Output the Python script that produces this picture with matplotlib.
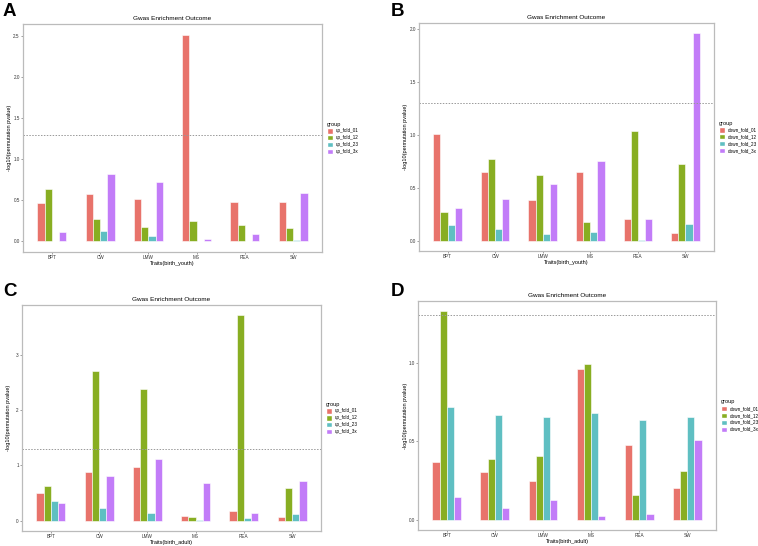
import numpy as np
import matplotlib
matplotlib.use("Agg")
import matplotlib.pyplot as plt
from matplotlib.patches import Patch

plt.rcParams['font.family'] = ['Liberation Sans', 'DejaVu Sans']

traits = ["BPT", "CW", "LMW", "MS", "REA", "SW"]
up_groups = ["up_fold_01", "up_fold_12", "up_fold_23", "up_fold_3x"]
down_groups = ["down_fold_01", "down_fold_12", "down_fold_23", "down_fold_3x"]
colors = ["#E8736B", "#88AE22", "#5FBFC2", "#C27CF8"]

# rows = groups, columns = traits
youth_up = [
    [0.465, 0.579, 0.518, 2.51, 0.481, 0.481],
    [0.644, 0.277, 0.180, 0.249, 0.204, 0.163],
    [0.010, 0.122, 0.069, 0.005, 0.005, 0.012],
    [0.114, 0.820, 0.722, 0.029, 0.094, 0.591],
]
youth_down = [
    [1.010, 0.653, 0.388, 0.653, 0.208, 0.069],
    [0.268, 0.770, 0.621, 0.177, 1.035, 0.722],
    [0.148, 0.107, 0.063, 0.079, 0.006, 0.155],
    [0.312, 0.394, 0.539, 0.757, 0.202, 1.959],
]
adult_up = [
    [0.508, 0.883, 0.980, 0.079, 0.169, 0.067],
    [0.623, 2.710, 2.390, 0.067, 3.714, 0.587],
    [0.357, 0.230, 0.145, 0.012, 0.042, 0.115],
    [0.315, 0.810, 1.113, 0.684, 0.133, 0.720],
]
adult_down = [
    [0.368, 0.304, 0.247, 0.962, 0.478, 0.203],
    [1.326, 0.383, 0.406, 0.989, 0.156, 0.311],
    [0.717, 0.666, 0.653, 0.677, 0.632, 0.651],
    [0.146, 0.076, 0.127, 0.021, 0.038, 0.505],
]

W, H = 758, 546
fig = plt.figure(figsize=(W / 100, H / 100), dpi=100)


def px_axes(l, t, r, b):
    return fig.add_axes([l / W, 1 - b / H, (r - l) / W, (b - t) / H])


def panel(rect, letter, letter_xy, data, groups, xlabel, ylim, yticks, yticklabels):
    ax = px_axes(*rect)
    x = np.arange(1, len(traits) + 1)
    bw = 0.15
    for i, vals in enumerate(data):
        ax.bar(x + (i - 1.5) * bw, vals, width=bw, color=colors[i],
               edgecolor="white", linewidth=0.4)
    ax.axhline(1.3, color="#999999", linestyle=(0, (1.5, 1.5)), linewidth=0.7)
    ax.set_xlim(0.4, 6.6)
    ax.set_ylim(*ylim)
    ax.set_xticks(x)
    ax.set_xticklabels(traits)
    ax.set_yticks(yticks)
    ax.set_yticklabels(yticklabels)
    ax.tick_params(labelsize=3.3, length=1.5, width=0.4, colors="#555555",
                   labelcolor="#333333", pad=0.8)
    for s in ax.spines.values():
        s.set_color("#BBBBBB")
        s.set_linewidth(0.9)
    ax.set_title("Gwas Enrichment Outcome", fontsize=4.6, pad=3)
    ax.set_xlabel(xlabel, fontsize=4, labelpad=0.5)
    ax.set_ylabel("-log10(permutation pvalue)", fontsize=4)
    axw = rect[2] - rect[0]
    ax.yaxis.set_label_coords(-10.5 / axw, 0.5)
    handles = [Patch(facecolor=c, edgecolor="white") for c in colors]
    leg = ax.legend(handles, groups, title="group", loc="center left",
                    bbox_to_anchor=(1.01, 0.5), frameon=False, fontsize=3.3,
                    title_fontsize=4, handlelength=1.4, handleheight=1.4,
                    handletextpad=0.6, labelspacing=0.35, borderaxespad=0)
    leg._legend_box.align = "left"
    fig.text(letter_xy[0] / W, 1 - letter_xy[1] / H, letter, fontsize=13.5,
             fontweight="bold", va="top", ha="left")
    return ax


panel((23, 24, 322, 252), "A", (3, 3), youth_up, up_groups, "Traits(birth_youth)",
      (-0.13, 2.65), [0, 0.5, 1.0, 1.5, 2.0, 2.5],
      ["0.0", "0.5", "1.0", "1.5", "2.0", "2.5"])
panel((419, 23, 714, 251), "B", (391, 3), youth_down, down_groups, "Traits(birth_youth)",
      (-0.098, 2.057), [0, 0.5, 1.0, 1.5, 2.0],
      ["0.0", "0.5", "1.0", "1.5", "2.0"])
panel((22, 305, 321, 531), "C", (3, 283), adult_up, up_groups, "Traits(birth_adult)",
      (-0.186, 3.90), [0, 1, 2, 3], ["0", "1", "2", "3"])
panel((418, 301, 716, 530), "D", (391, 283), adult_down, down_groups, "Traits(birth_adult)",
      (-0.066, 1.392), [0, 0.5, 1.0], ["0.0", "0.5", "1.0"])

fig.savefig("out.png", dpi=100)
